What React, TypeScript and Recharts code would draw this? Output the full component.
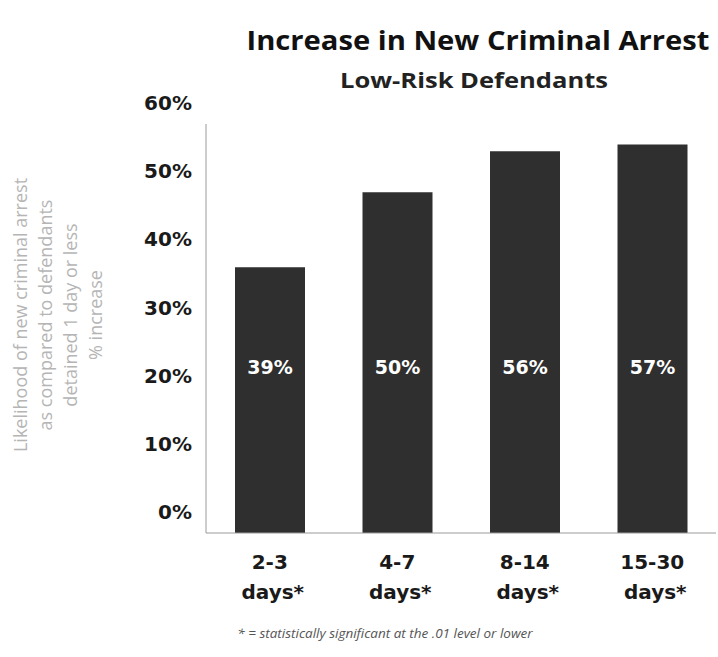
import React from 'react';
import { BarChart, Bar, XAxis, YAxis, LabelList } from 'recharts';

const categories = ['2-3', '4-7', '8-14', '15-30'];
const increase = [39, 50, 56, 57];
const yTicks = [0, 10, 20, 30, 40, 50, 60];
const yLabelLines = [
  'Likelihood of new criminal arrest',
  'as compared to defendants',
  'detained 1 day or less',
  '% increase',
];

const data = categories.map((c, i) => ({ cat: c, value: increase[i] }));

const BOLD = '"DejaVu Sans", "Open Sans", sans-serif';

const YTick = ({ x, y, payload }: any) => (
  <text x={x - 6} y={y - 21} dy={7} textAnchor="end" fontFamily={BOLD} fontWeight={700} fontSize={20} fill="#1a1a1a">
    {payload.value}%
  </text>
);

const XTick = ({ x, y, payload }: any) => (
  <g>
    <text x={x} y={y + 28} textAnchor="middle" fontFamily={BOLD} fontWeight={700} fontSize={20} fill="#1a1a1a">
      {payload.value}
    </text>
    <text x={x + 3} y={y + 58} textAnchor="middle" fontFamily={BOLD} fontWeight={700} fontSize={20} fill="#1a1a1a">
      days*
    </text>
  </g>
);

// value labels sit at the same height in every bar
const BarLabel = ({ x, y, width, height, value }: any) => (
  <text x={x + width / 2} y={y + height - 166} dy={7} textAnchor="middle" fontFamily={BOLD} fontWeight={700} fontSize={19} fill="#ffffff">
    {value}%
  </text>
);

export default function App() {
  return (
    <div style={{ position: 'absolute', left: 0, top: 0, width: 718, height: 657, background: '#fff' }}>
      <BarChart width={718} height={657} data={data} margin={{ top: 124, right: 2, bottom: 94, left: 0 }}>
        <YAxis
          width={206}
          domain={[0, 60]}
          ticks={yTicks}
          tickLine={false}
          axisLine={{ stroke: '#9a9a9a' }}
          tick={<YTick />}
          interval={0}
        />
        <XAxis dataKey="cat" height={30} tickLine={false} axisLine={{ stroke: '#9a9a9a' }} tick={<XTick />} interval={0} />
        <Bar dataKey="value" fill="#2f2f2f" barSize={70} isAnimationActive={false}>
          <LabelList dataKey="value" content={<BarLabel />} />
        </Bar>
      </BarChart>
      <svg width={718} height={657} style={{ position: 'absolute', left: 0, top: 0, pointerEvents: 'none' }}>
        <text x={478} y={50} textAnchor="middle" fontFamily='"Open Sans", sans-serif' fontWeight={700} fontSize={27} textLength={463} lengthAdjust="spacingAndGlyphs" fill="#111">
          Increase in New Criminal Arrest
        </text>
        <text x={474} y={88} textAnchor="middle" fontFamily='"Open Sans", sans-serif' fontWeight={700} fontSize={21} textLength={268} lengthAdjust="spacingAndGlyphs" fill="#222">
          Low-Risk Defendants
        </text>
        {yLabelLines.map((line, i) => (
          <text
            key={line}
            x={0}
            y={0}
            transform={`translate(${21 + i * 25}, 315) rotate(-90)`}
            textAnchor="middle"
            dy={6}
            fontFamily='"Open Sans", sans-serif'
            fontSize={18}
            fill="#b5b5b5"
          >
            {line}
          </text>
        ))}
        <text x={385} y={638} textAnchor="middle" fontFamily='"Open Sans", sans-serif' fontStyle="italic" fontSize={13.5} fill="#555">
          * = statistically significant at the .01 level or lower
        </text>
      </svg>
    </div>
  );
}
